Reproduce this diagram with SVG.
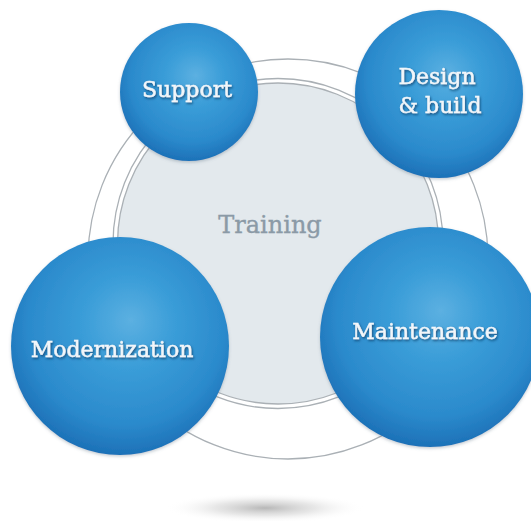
<svg xmlns="http://www.w3.org/2000/svg" width="531" height="521" viewBox="0 0 531 521">
  <defs>
    <radialGradient id="sphere" cx="0.52" cy="0.42" r="0.6" fx="0.55" fy="0.38">
      <stop offset="0" stop-color="#5cb0e1"/>
      <stop offset="0.35" stop-color="#3a9dd8"/>
      <stop offset="0.75" stop-color="#2b8acc"/>
      <stop offset="1" stop-color="#1b6eb5"/>
    </radialGradient>
    <radialGradient id="floorShadow" cx="0.5" cy="0.5" r="0.5">
      <stop offset="0" stop-color="#aaaaaa" stop-opacity="0.85"/>
      <stop offset="0.5" stop-color="#cfcfcf" stop-opacity="0.5"/>
      <stop offset="1" stop-color="#ffffff" stop-opacity="0"/>
    </radialGradient>
    <filter id="textShadow" x="-10%" y="-30%" width="120%" height="160%">
      <feDropShadow dx="1" dy="1.5" stdDeviation="0.9" flood-color="#0b3560" flood-opacity="0.75"/>
    </filter>
    <filter id="sphereShadow" x="-10%" y="-10%" width="120%" height="125%">
      <feDropShadow dx="0" dy="1.5" stdDeviation="1.5" flood-color="#5a6f80" flood-opacity="0.35"/>
    </filter>
  </defs>
  <style>
    .ring { fill: none; stroke: #aab0b5; stroke-width: 1.3; }
    .ball { fill: url(#sphere); filter: url(#sphereShadow); }
    .lbl { font-family: "DejaVu Serif", "Liberation Serif", serif; font-size: 22px; fill: #f2f6fa; stroke: #f2f6fa; stroke-width: 0.45; text-anchor: middle; filter: url(#textShadow); }
    .center { font-family: "DejaVu Serif", "Liberation Serif", serif; font-size: 24px; fill: #8b9aa6; stroke: #8b9aa6; stroke-width: 0.35; text-anchor: middle; }
  </style>
  <rect width="531" height="521" fill="#ffffff"/>
  <ellipse cx="265" cy="508" rx="100" ry="15" fill="url(#floorShadow)"/>

  <g id="training">
    <circle class="ring" cx="288" cy="259" r="200"/>
    <circle cx="278" cy="243.5" r="160.5" fill="#e3e9ed"/>
    <circle class="ring" cx="278" cy="243.5" r="160.5"/>
    <circle class="ring" cx="278" cy="243.5" r="165"/>
    <text class="center" x="270" y="233">Training</text>
  </g>

  <g id="connectors"></g>

  <g id="support">
    <circle class="ball" cx="189" cy="92" r="69"/>
    <text class="lbl" x="187" y="97">Support</text>
  </g>
  <g id="design-build">
    <circle class="ball" cx="439" cy="94" r="84"/>
    <text class="lbl" x="437" y="84">Design</text>
    <text class="lbl" x="440" y="113">&amp; build</text>
  </g>
  <g id="modernization">
    <circle class="ball" cx="120" cy="346" r="109"/>
    <text class="lbl" x="112" y="357">Modernization</text>
  </g>
  <g id="maintenance">
    <circle class="ball" cx="430" cy="337" r="110"/>
    <text class="lbl" x="425" y="339">Maintenance</text>
  </g>
</svg>
